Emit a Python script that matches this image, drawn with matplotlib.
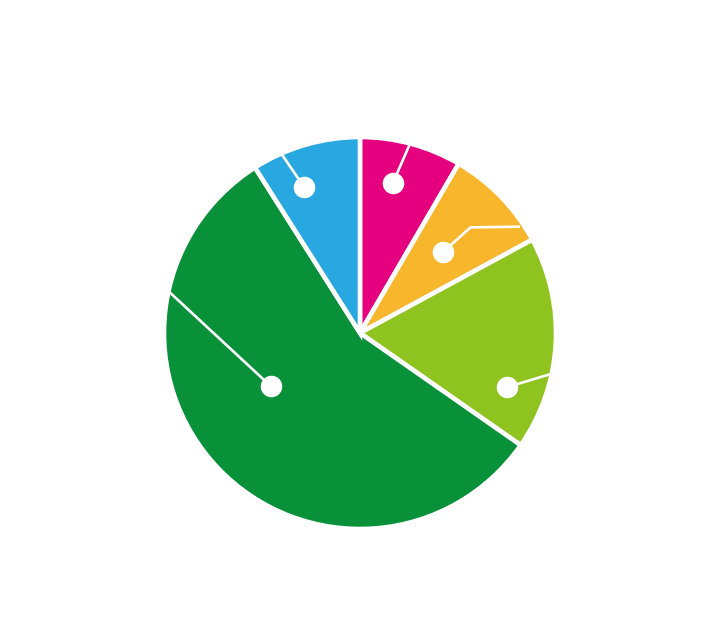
import numpy as np
import matplotlib
matplotlib.use("Agg")
import matplotlib.pyplot as plt

# Data (clockwise from 12 o'clock)
categories = ["A", "B", "C", "D", "E"]
values = [8.4, 8.7, 17.6, 56.3, 9.0]
colors = ["#E4007F", "#F8B62D", "#8FC31F", "#09913A", "#29A7E1"]

# Leader-line layout (angle clockwise from top in degrees, radius fraction)
label_paths = [
    [(12.4, 0.785), (14.8, 1.0)],
    [(45.7, 0.59), (46.3, 0.78), (56.4, 0.98)],
    [(110.2, 0.80), (102.0, 1.0)],
    [(239.2, 0.53), (282.3, 1.0)],
    [(339.0, 0.80), (336.3, 1.0)],
]

W, H = 720, 640
cx, cy, R = 360, 333, 196

fig = plt.figure(figsize=(W / 100, H / 100), dpi=100)
ax = fig.add_axes([0, 0, 1, 1])

ax.pie(values, colors=colors, startangle=90, counterclock=False, radius=1.0,
       center=(0, 0), frame=True,
       wedgeprops=dict(edgecolor="white", linewidth=3.3))
ax.set_xlim(-cx / R, (W - cx) / R)
ax.set_ylim(-(H - cy) / R, cy / R)
ax.set_aspect("equal")
ax.axis("off")

def pt(a, r):
    t = np.deg2rad(90 - a)
    return r * np.cos(t), r * np.sin(t)

for path in label_paths:
    xs, ys = zip(*[pt(a, r) for a, r in path])
    ax.plot(xs, ys, color="white", lw=1.9, solid_capstyle="butt", zorder=5)
    ax.plot(xs[0], ys[0], "o", color="white", markersize=14.5, zorder=6)

fig.savefig("out.png", dpi=100, facecolor="white")
